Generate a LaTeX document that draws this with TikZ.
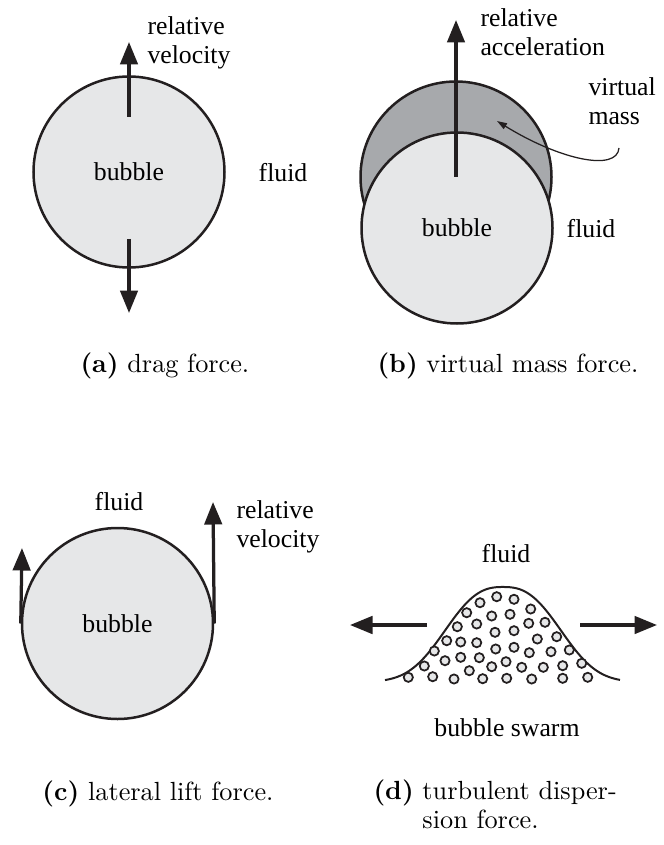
\documentclass[tikz,border=0pt]{standalone}
\usepackage{fontspec}
\newfontfamily\lblfont{Liberation Serif}
\usetikzlibrary{arrows.meta,positioning,calc}
\definecolor{ink}{HTML}{231F20}
\definecolor{bub}{HTML}{E6E7E8}
\definecolor{vm}{HTML}{A7A9AC}
\tikzset{
  >={Triangle[length=9pt,width=7pt]},
  bubble/.style={circle,draw=ink,line width=1pt,fill=bub,minimum size=76.4pt,inner sep=0pt,font=\lblfont\fontsize{10.3}{11.6}\selectfont},
  lab/.style={font=\lblfont\fontsize{10.3}{11.6}\selectfont,align=left,inner sep=0pt},
  subcap/.style={font=\fontsize{10.5}{11.6}\selectfont,inner sep=0pt},
  force/.style={->,draw=ink,line width=1.3pt},
  note/.style={-{Triangle[length=4pt,width=2.6pt]},draw=ink,line width=0.5pt},
  dot/.style={draw=ink,fill=bub,line width=0.7pt},
}
\begin{document}
\begin{tikzpicture}[x=0.4pt,y=-0.4pt]
\useasboundingbox (0,0) rectangle (664,845);
% (a) drag
\node[bubble] (bubA) at (129,172) {bubble};
\coordinate (velA0) at (129,117);
\coordinate (velA1) at (129,42);
\coordinate (dragA0) at (129,239);
\coordinate (dragA1) at (129,313);
\draw[force] (velA0) -- (velA1);
\draw[force] (dragA0) -- (dragA1);
\node[lab,anchor=west] (relA) at (147,43) {relative\\velocity};
\node[lab] (fluidA) at (283,173) {fluid};
\node[subcap,anchor=west] (capA) at (80,366) {\textbf{(a)} drag force.};
% (b) virtual mass
\node[bubble,fill=vm] (vmass) at (456,177) {};
\node[bubble] (bubB) at (457,228) {bubble};
\coordinate (accB) at (456,20);
\draw[force] (vmass.center) -- (accB);
\node[lab,anchor=west] (relB) at (480,32) {relative\\acceleration};
\node[lab,anchor=west] (vmlab) at (588,101) {virtual\\mass};
\coordinate (vmfoot) at (619,148);
\coordinate (vmtip) at (497,121);
\draw[note] (vmfoot) .. controls (617,172) and (560,160) .. (vmtip);
\node[lab] (fluidB) at (591,229) {fluid};
\node[subcap,anchor=west] (capB) at (377,366) {\textbf{(b)} virtual mass force.};
% (c) lift
\node[bubble] (bubC) at (117.5,623.5) {bubble};
\coordinate (liftL) at (22,548);
\coordinate (liftR) at (213,502);
\draw[force] (bubC.west) -- (liftL);
\draw[force] (bubC.east) -- (liftR);
\node[lab] (fluidC) at (119,502) {fluid};
\node[lab,anchor=west] (relC) at (236,527) {relative\\velocity};
\node[subcap,anchor=west] (capC) at (42,794) {\textbf{(c)} lateral lift force.};
% (d) dispersion
\draw[ink,line width=0.8pt] plot[domain=385:620,samples=90,smooth] (\x,{682-95*exp(-((abs(\x-503)+0.01)/70)^2.6)});
\foreach \px/\py in {496.7/596.7,514/599.3,480/602.7,530.7/609,466.7/612.7,491.7/616,510/614.3,
  457.3/626.7,476.7/624,528.7/623.3,545/622.3,495/632.3,514/630.7,
  446.7/640.7,460.7/642,476.7/642.7,537.3/639,556.7/636.7,
  434.3/651,495.7/649,514/647.3,529.3/652.7,551/651.7,569.3/650,
  445/660.7,460.7/657.3,479.3/657.7,506/661.7,491.7/666.7,
  424.3/666,469.3/670.7,521.7/667.3,543.3/667.3,562.7/665.7,581.7/663.3,
  408.3/677.3,432.7/676.7,454/679,482.7/678.7,506.7/678.3,531.7/679,562.7/678.3,587.7/677.3}
  \draw[dot] (\px,\py) circle (4.6);
\coordinate (dispL0) at (427,625);
\coordinate (dispL1) at (350,625);
\coordinate (dispR0) at (580,625);
\coordinate (dispR1) at (657,625);
\draw[force] (dispL0) -- (dispL1);
\draw[force] (dispR0) -- (dispR1);
\node[lab] (fluidD) at (506,554) {fluid};
\node[lab] (swarm) at (507,728) {bubble swarm};
\node[subcap,anchor=west] (capD) at (373,808.5) {\begin{tabular}{@{}l@{ }l@{}}\textbf{(d)} & turbulent disper-\\ & sion force.\end{tabular}};
\end{tikzpicture}
\end{document}
